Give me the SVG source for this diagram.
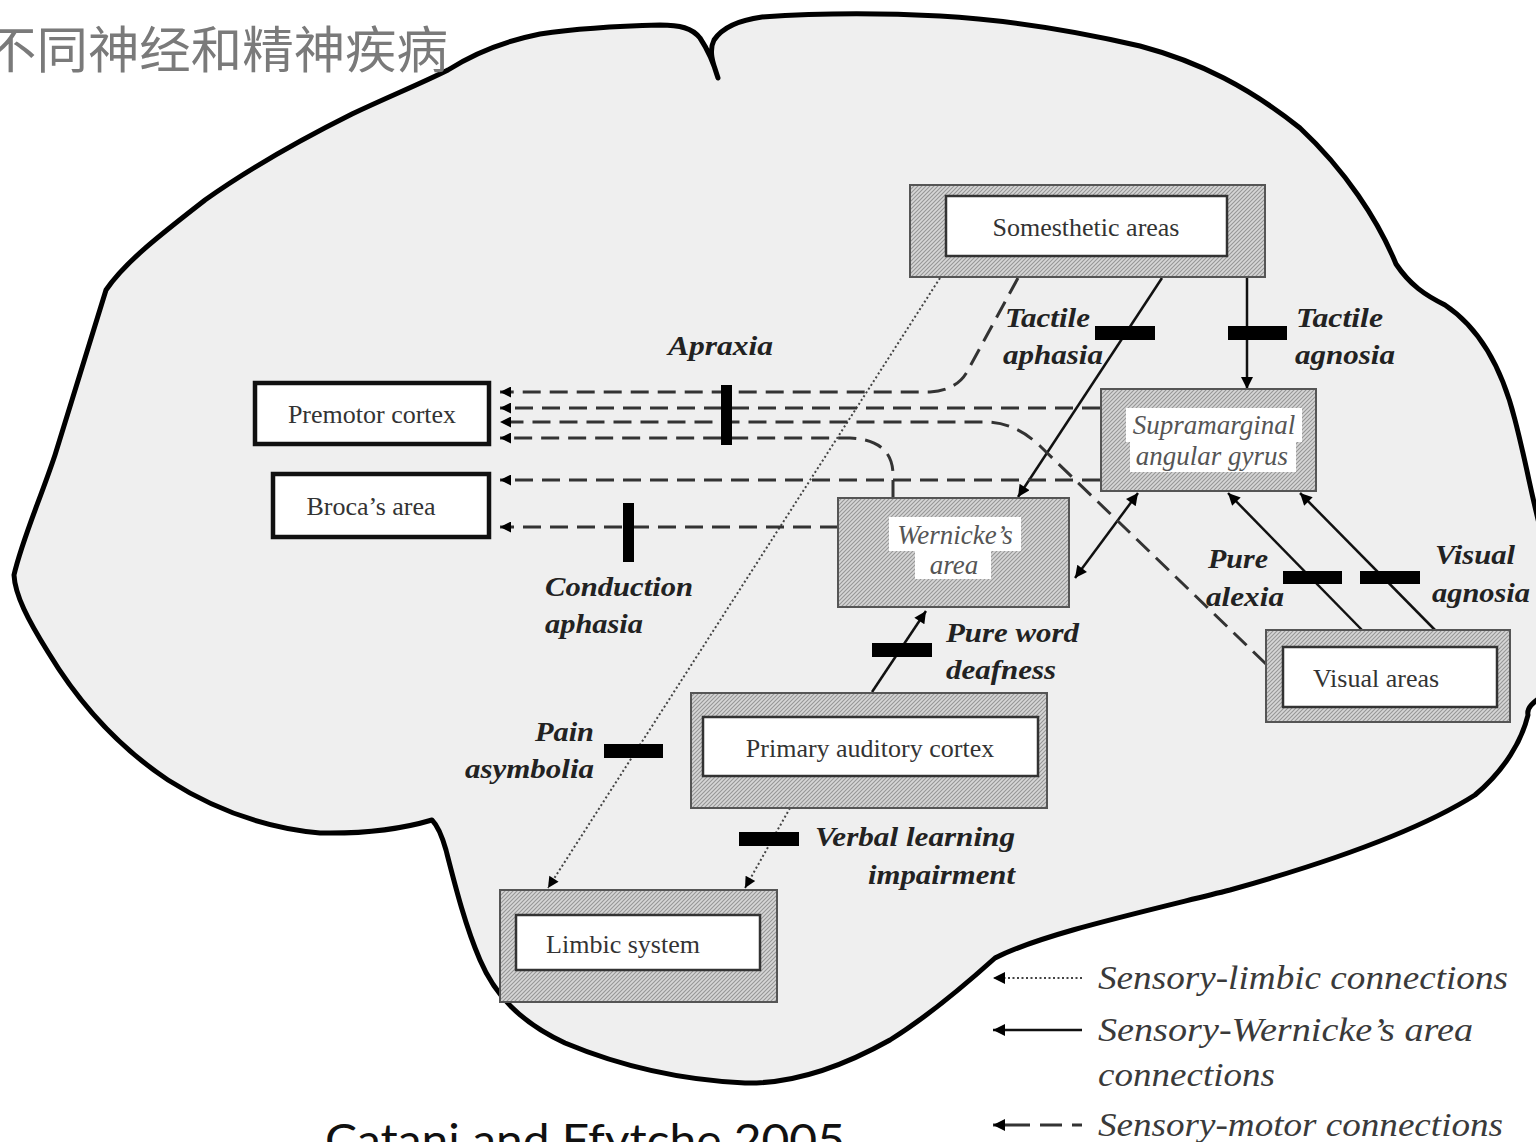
<svg xmlns="http://www.w3.org/2000/svg" width="1536" height="1142" viewBox="0 0 1536 1142">
  <style>
    .node-text { font-family: "Liberation Serif", "Times New Roman", serif; font-size: 26px; fill: #333; text-anchor: middle; }
    .area-text { font-family: "Liberation Serif", "Times New Roman", serif; font-size: 27px; font-style: italic; fill: #555; text-anchor: middle; }
    .label { font-family: "Liberation Serif", "Times New Roman", serif; font-size: 28px; font-style: italic; font-weight: bold; fill: #222; }
    .legend { font-family: "Liberation Serif", "Times New Roman", serif; font-size: 34px; font-style: italic; fill: #3a3a3a; }
    .hatch-box { fill: url(#hatch); stroke: #555; stroke-width: 2; }
    .inner-box { fill: #fff; stroke: #333; stroke-width: 2.5; }
    .plain-box { fill: #fff; stroke: #111; stroke-width: 4.5; }
    .solid { fill: none; stroke: #111; stroke-width: 2.5; }
    .dashed { fill: none; stroke: #333; stroke-width: 3; stroke-dasharray: 18 9; }
    .dotted { fill: none; stroke: #444; stroke-width: 2; stroke-dasharray: 2 2.5; }
    .block { fill: #000; }
  </style>
  <defs>
    <pattern id="hatch" patternUnits="userSpaceOnUse" width="4" height="4">
      <rect width="4" height="4" fill="#d6d6d6"/>
      <path d="M-1 1 L1 -1 M0 4 L4 0 M3 5 L5 3" stroke="#969696" stroke-width="1.1"/>
    </pattern>
    <marker id="arrow" viewBox="0 0 10 10" refX="10" refY="5" markerUnits="userSpaceOnUse" markerWidth="16" markerHeight="12" orient="auto-start-reverse">
      <path d="M0 0 L10 5 L0 10 Z" fill="#000"/>
    </marker>
    <marker id="arrow-small" viewBox="0 0 10 10" refX="10" refY="5" markerUnits="userSpaceOnUse" markerWidth="15" markerHeight="11" orient="auto-start-reverse">
      <path d="M0 0 L10 5 L0 10 Z" fill="#000"/>
    </marker>
  </defs>

  <rect width="1536" height="1142" fill="#fff"/>

  <!-- brain outline -->
  <path id="brain" fill="#efefef" stroke="#000" stroke-width="5" stroke-linejoin="round"
    d="M448 70 C470 56 500 42 540 34 C580 28 620 26 660 25 C680 25 692 28 700 38 C708 50 714 64 718 78
       C714 66 708 52 714 40 C722 28 740 20 762 17 C820 13 880 13 940 16 C1010 20 1080 32 1140 46
       C1200 62 1250 88 1300 128 C1345 170 1378 220 1396 264 C1410 285 1425 295 1445 305
       C1475 325 1500 360 1515 420 C1528 470 1534 510 1545 545 L1550 690
       C1538 700 1526 705 1528 715 C1522 740 1505 770 1475 795 C1420 830 1330 862 1230 890
       C1130 915 1040 935 995 958 C965 985 930 1015 890 1040 C840 1068 790 1084 745 1083
       C680 1080 620 1066 565 1043 C520 1022 495 995 480 960 C465 925 455 885 446 850
       C442 836 438 826 432 820 C405 828 370 834 320 833 C265 828 215 810 168 780
       C120 748 80 705 48 652 C28 620 15 595 14 575 C22 540 40 500 55 455
       C70 405 88 350 106 290 C125 262 160 235 205 200 C250 168 300 140 352 114
       C390 96 420 84 448 70 Z"/>

  <!-- heading and citation -->
  <text x="-15" y="68" font-family="'Noto Sans CJK SC', 'Noto Sans', sans-serif" font-size="50" fill="#7a7a7a" textLength="463" lengthAdjust="spacingAndGlyphs">不同神经和精神疾病</text>
  <text x="325" y="1156" font-family="Lato, 'Open Sans', sans-serif" font-size="44" fill="#111" textLength="520" lengthAdjust="spacingAndGlyphs">Catani and Ffytche 2005</text>

  <!-- connectors -->
  <g id="connectors">
    <!-- sensory-limbic -->
    <path class="dotted" d="M940 278 L548 888" marker-end="url(#arrow-small)"/>
    <path class="dotted" d="M790 808 L745 888" marker-end="url(#arrow-small)"/>
    <!-- sensory-Wernicke -->
    <path class="solid" d="M1162 278 L1018 497" marker-end="url(#arrow)"/>
    <path class="solid" d="M1247 278 L1247 389" marker-end="url(#arrow)"/>
    <path class="solid" d="M1138 493 L1075 578" marker-start="url(#arrow)" marker-end="url(#arrow)"/>
    <path class="solid" d="M1362 630 L1228 493" marker-end="url(#arrow)"/>
    <path class="solid" d="M1435 630 L1300 493" marker-end="url(#arrow)"/>
    <path class="solid" d="M872 692 L926 611" marker-end="url(#arrow)"/>
    <!-- sensory-motor -->
    <path class="dashed" d="M1018 278 L968 370 Q958 390 930 392 L500 392" marker-end="url(#arrow-small)"/>
    <path class="dashed" d="M1100 408 L500 408" marker-end="url(#arrow-small)"/>
    <path class="dashed" d="M1266 664 L1040 446 Q1015 422 985 422 L500 422" marker-end="url(#arrow-small)"/>
    <path class="dashed" d="M893 498 L893 475 Q893 440 850 438 L500 438" marker-end="url(#arrow-small)"/>
    <path class="dashed" d="M1100 480 L500 480" marker-end="url(#arrow-small)"/>
    <path class="dashed" d="M838 527 L500 527" marker-end="url(#arrow-small)"/>
  </g>

  <!-- lesion blocks -->
  <g id="blocks">
    <rect class="block" x="1095" y="326" width="60" height="14"/>
    <rect class="block" x="1228" y="326" width="59" height="14"/>
    <rect class="block" x="721" y="385" width="11" height="60"/>
    <rect class="block" x="623" y="503" width="11" height="59"/>
    <rect class="block" x="872" y="643" width="60" height="14"/>
    <rect class="block" x="1283" y="571" width="59" height="13"/>
    <rect class="block" x="1360" y="571" width="60" height="13"/>
    <rect class="block" x="604" y="744" width="59" height="14"/>
    <rect class="block" x="739" y="832" width="60" height="14"/>
  </g>

  <!-- areas -->
  <g id="somesthetic">
    <rect class="hatch-box" x="910" y="185" width="355" height="92"/>
    <rect class="inner-box" x="946" y="196" width="281" height="60"/>
    <text class="node-text" x="1086" y="236">Somesthetic areas</text>
  </g>
  <g id="premotor">
    <rect class="plain-box" x="255" y="383" width="234" height="61"/>
    <text class="node-text" x="372" y="423">Premotor cortex</text>
  </g>
  <g id="broca">
    <rect class="plain-box" x="273" y="474" width="216" height="63"/>
    <text class="node-text" x="371" y="515">Broca’s area</text>
  </g>
  <g id="supramarginal">
    <rect class="hatch-box" x="1101" y="389" width="215" height="102"/>
    <rect x="1126" y="408" width="176" height="34" fill="#fff"/>
    <rect x="1130" y="440" width="166" height="32" fill="#fff"/>
    <text class="area-text" x="1214" y="434">Supramarginal</text>
    <text class="area-text" x="1212" y="465">angular gyrus</text>
  </g>
  <g id="wernicke">
    <rect class="hatch-box" x="838" y="498" width="231" height="109"/>
    <rect x="889" y="517" width="132" height="34" fill="#fff"/>
    <rect x="915" y="549" width="76" height="30" fill="#fff"/>
    <text class="area-text" x="955" y="544">Wernicke’s</text>
    <text class="area-text" x="954" y="574">area</text>
  </g>
  <g id="visual">
    <rect class="hatch-box" x="1266" y="630" width="244" height="92"/>
    <rect class="inner-box" x="1283" y="647" width="214" height="60"/>
    <text class="node-text" x="1376" y="687">Visual areas</text>
  </g>
  <g id="auditory">
    <rect class="hatch-box" x="691" y="693" width="356" height="115"/>
    <rect class="inner-box" x="703" y="717" width="335" height="59"/>
    <text class="node-text" x="870" y="757">Primary auditory cortex</text>
  </g>
  <g id="limbic">
    <rect class="hatch-box" x="500" y="890" width="277" height="112"/>
    <rect class="inner-box" x="516" y="915" width="244" height="55"/>
    <text class="node-text" x="623" y="953">Limbic system</text>
  </g>

  <!-- disconnection syndromes -->
  <g id="labels">
    <text class="label" x="668" y="355" textLength="105" lengthAdjust="spacingAndGlyphs" fill="#333">Apraxia</text>
    <text class="label" x="1005" y="327" textLength="85" lengthAdjust="spacingAndGlyphs">Tactile</text>
    <text class="label" x="1003" y="364" textLength="100" lengthAdjust="spacingAndGlyphs">aphasia</text>
    <text class="label" x="1296" y="327" textLength="87" lengthAdjust="spacingAndGlyphs">Tactile</text>
    <text class="label" x="1295" y="364" textLength="100" lengthAdjust="spacingAndGlyphs">agnosia</text>
    <text class="label" x="545" y="596" textLength="148" lengthAdjust="spacingAndGlyphs">Conduction</text>
    <text class="label" x="545" y="633" textLength="98" lengthAdjust="spacingAndGlyphs">aphasia</text>
    <text class="label" x="946" y="642" textLength="133" lengthAdjust="spacingAndGlyphs">Pure word</text>
    <text class="label" x="946" y="679" textLength="110" lengthAdjust="spacingAndGlyphs">deafness</text>
    <text class="label" x="1208" y="568" textLength="60" lengthAdjust="spacingAndGlyphs">Pure</text>
    <text class="label" x="1206" y="606" textLength="78" lengthAdjust="spacingAndGlyphs">alexia</text>
    <text class="label" x="1435" y="564" textLength="80" lengthAdjust="spacingAndGlyphs">Visual</text>
    <text class="label" x="1432" y="602" textLength="98" lengthAdjust="spacingAndGlyphs">agnosia</text>
    <text class="label" x="535" y="741" textLength="59" lengthAdjust="spacingAndGlyphs">Pain</text>
    <text class="label" x="465" y="778" textLength="129" lengthAdjust="spacingAndGlyphs">asymbolia</text>
    <text class="label" x="815" y="846" textLength="200" lengthAdjust="spacingAndGlyphs">Verbal learning</text>
    <text class="label" x="868" y="884" textLength="147" lengthAdjust="spacingAndGlyphs">impairment</text>
  </g>

  <!-- legend -->
  <g id="legend">
    <path class="dotted" d="M1082 978 L993 978" marker-end="url(#arrow)"/>
    <text class="legend" x="1098" y="989" textLength="410" lengthAdjust="spacingAndGlyphs">Sensory-limbic connections</text>
    <path class="solid" d="M1082 1030 L993 1030" marker-end="url(#arrow)"/>
    <text class="legend" x="1098" y="1041" textLength="375" lengthAdjust="spacingAndGlyphs">Sensory-Wernicke’s area</text>
    <text class="legend" x="1098" y="1086" textLength="177" lengthAdjust="spacingAndGlyphs">connections</text>
    <path d="M1082 1125 L993 1125" fill="none" stroke="#333" stroke-width="3" stroke-dasharray="10 10 22 10 100" marker-end="url(#arrow)"/>
    <text class="legend" x="1098" y="1136" textLength="405" lengthAdjust="spacingAndGlyphs">Sensory-motor connections</text>
  </g>
</svg>
